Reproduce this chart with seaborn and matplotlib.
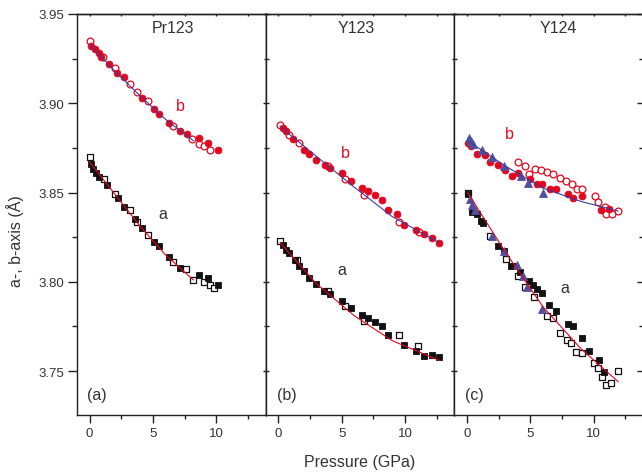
import matplotlib
matplotlib.use("Agg")
import matplotlib.pyplot as plt
import seaborn as sns
from matplotlib.ticker import MultipleLocator, FormatStrFormatter

# ---------------- data ----------------
panel_titles = ["Pr123", "Y123", "Y124"]
panel_tags = ["(a)", "(b)", "(c)"]

# Panel (a) Pr123
pr_b_open_x = [0.0, 1.06, 2.0, 3.2, 3.7, 4.6, 6.6, 8.1, 8.6, 9.05, 9.5]
pr_b_open_y = [3.935, 3.926, 3.920, 3.911, 3.9065, 3.901, 3.8875, 3.880, 3.877, 3.876, 3.8737]
pr_b_fill_x = [0.13, 0.45, 0.7, 0.9, 1.5, 2.16, 2.7, 4.15, 5.1, 5.5, 6.3, 7.1, 7.65, 8.6, 9.35, 10.15]
pr_b_fill_y = [3.932, 3.9305, 3.928, 3.926, 3.922, 3.917, 3.9145, 3.903, 3.897, 3.894, 3.889, 3.8843,
               3.8826, 3.8804, 3.8778, 3.874]
pr_a_open_x = [0.0, 1.1, 2.0, 3.2, 3.75, 4.6, 6.6, 7.6, 8.15, 9.05, 9.5, 9.8]
pr_a_open_y = [3.8698, 3.8576, 3.849, 3.840, 3.8337, 3.826, 3.811, 3.807, 3.801, 3.7998, 3.798, 3.7966]
pr_a_fill_x = [0.1, 0.3, 0.5, 0.7, 1.4, 2.2, 2.7, 3.6, 4.1, 5.1, 5.5, 6.25, 7.1, 8.6, 9.35, 10.1]
pr_a_fill_y = [3.866, 3.863, 3.861, 3.8585, 3.854, 3.847, 3.842, 3.8352, 3.830, 3.8225, 3.820, 3.8138,
               3.808, 3.8039, 3.802, 3.7983]
pr_bfit_x = [0.0, 2.0, 4.0, 6.0, 8.2]
pr_bfit_y = [3.933, 3.918, 3.904, 3.891, 3.879]
pr_afit_x = [0.0, 2.0, 4.0, 6.0, 8.2]
pr_afit_y = [3.867, 3.849, 3.831, 3.815, 3.801]

# Panel (b) Y123
y3_b_open_x = [0.13, 0.87, 1.6, 3.9, 5.3, 6.75, 9.5, 11.1]
y3_b_open_y = [3.888, 3.8823, 3.8778, 3.865, 3.8576, 3.8488, 3.8337, 3.8278]
y3_b_fill_x = [0.35, 0.6, 1.13, 2.0, 2.46, 3.0, 3.7, 4.1, 5.0, 5.7, 6.6, 7.1, 7.6, 8.2, 8.7, 9.4, 9.95,
               10.85, 11.5, 12.1, 12.7]
y3_b_fill_y = [3.886, 3.8844, 3.880, 3.874, 3.8716, 3.868, 3.8655, 3.8638, 3.861, 3.8567, 3.8526, 3.851,
               3.8487, 3.846, 3.8404, 3.838, 3.8318, 3.829, 3.8268, 3.8246, 3.822]
y3_a_open_x = [0.13, 1.5, 3.9, 5.3, 6.75, 9.5, 11.05]
y3_a_open_y = [3.8227, 3.812, 3.795, 3.7863, 3.7783, 3.770, 3.7643]
y3_a_fill_x = [0.35, 0.6, 0.87, 1.3, 1.67, 2.0, 2.43, 3.0, 3.6, 4.1, 5.0, 5.7, 6.6, 7.1, 7.6, 8.2, 8.7,
               9.95, 10.85, 11.5, 12.1, 12.7]
y3_a_fill_y = [3.8205, 3.818, 3.816, 3.812, 3.809, 3.806, 3.8024, 3.7987, 3.795, 3.7932, 3.789, 3.7852,
               3.7815, 3.780, 3.7777, 3.775, 3.770, 3.7647, 3.7615, 3.7587, 3.759, 3.7578]
y3_bfit_x = [0.13, 3.0, 6.0, 9.0, 12.7]
y3_bfit_y = [3.887, 3.8703, 3.853, 3.8365, 3.822]
y3_afit_x = [0.13, 3.0, 6.0, 9.0, 12.7]
y3_afit_y = [3.822, 3.799, 3.781, 3.767, 3.756]

# Panel (c) Y124
y4_b_tri_x = [0.13, 0.3, 0.5, 1.2, 1.96, 2.9, 4.3, 4.8, 6.0]
y4_b_tri_y = [3.8804, 3.879, 3.877, 3.874, 3.8697, 3.865, 3.8595, 3.8552, 3.8496]
y4_b_fill_x = [0.05, 0.35, 0.8, 1.4, 1.85, 2.45, 3.0, 3.55, 4.0, 5.0, 5.5, 5.95, 6.55, 7.0, 7.95, 8.4,
               9.05, 10.6, 11.25]
y4_b_fill_y = [3.878, 3.876, 3.8716, 3.871, 3.8673, 3.8655, 3.8628, 3.8595, 3.861, 3.8576, 3.855, 3.8548,
               3.852, 3.852, 3.849, 3.847, 3.848, 3.8404, 3.8408]
y4_b_open_x = [4.0, 4.6, 4.9, 5.35, 5.85, 6.35, 6.8, 7.35, 7.8, 8.3, 8.7, 9.05, 10.07, 10.35, 10.9, 11.0,
               11.45, 11.95]
y4_b_open_y = [3.867, 3.865, 3.8604, 3.8632, 3.8628, 3.8614, 3.8604, 3.858, 3.8567, 3.8548, 3.852, 3.852,
               3.8483, 3.8446, 3.8418, 3.838, 3.838, 3.8399]
y4_a_open_x = [0.05, 1.83, 3.05, 4.0, 4.6, 5.3, 6.35, 6.8, 7.35, 7.9, 8.2, 8.6, 9.05, 10.0, 10.35, 10.65,
               11.0, 11.4, 11.95]
y4_a_open_y = [3.850, 3.8255, 3.8128, 3.8035, 3.797, 3.7914, 3.7811, 3.7795, 3.7714, 3.7675, 3.766,
               3.7606, 3.760, 3.7546, 3.7516, 3.7466, 3.7423, 3.7434, 3.7503]
y4_a_fill_x = [0.05, 0.37, 0.8, 1.1, 1.3, 2.45, 2.9, 3.45, 3.8, 4.16, 4.9, 5.2, 5.5, 5.95, 6.5, 7.0, 7.95,
               8.4, 9.05, 9.65, 10.4, 10.85]
y4_a_fill_y = [3.849, 3.8393, 3.838, 3.834, 3.8327, 3.820, 3.817, 3.809, 3.809, 3.8054, 3.8007, 3.798,
               3.796, 3.7938, 3.787, 3.7837, 3.7764, 3.7755, 3.7684, 3.7615, 3.756, 3.7497]
y4_a_tri_x = [0.2, 0.4, 0.63, 1.96, 2.9, 3.97, 4.43, 4.77, 5.95]
y4_a_tri_y = [3.8464, 3.843, 3.8403, 3.8255, 3.817, 3.8095, 3.8031, 3.797, 3.7848]
y4_bfit_x = [0.05, 3.0, 6.0, 9.0, 11.95]
y4_bfit_y = [3.879, 3.865, 3.8525, 3.845, 3.8396]
y4_afit_x = [0.05, 3.0, 6.0, 9.0, 11.95]
y4_afit_y = [3.850, 3.817, 3.786, 3.7625, 3.744]

# a / b label positions (data coords)
lab_b_pos = [(7.2, 3.8985), (5.3, 3.8727), (3.37, 3.883)]
lab_a_pos = [(5.77, 3.838), (5.0, 3.807), (7.7, 3.797)]

# ---------------- style ----------------
sns.set_theme(style="ticks")
plt.rcParams['font.family'] = ['Liberation Sans', 'DejaVu Sans']

RED = "#e2061e"
BLUE = "#3d3d9e"
TRI = "#4f4f9e"
BLACK = "#111111"
TXT = "#333333"

fig = plt.figure(figsize=(6.42, 4.77), dpi=100)
L = 77 / 642
W = (643 - 77) / 3 / 642
B = 1 - 416 / 477
T = 1 - 15 / 477
axes = [fig.add_axes([L + i * W, B, W, T - B]) for i in range(3)]


def pts(ax, x, y, marker, filled, col, s):
    if filled:
        sns.scatterplot(x=x, y=y, ax=ax, marker=marker, color=col, edgecolor=col,
                        s=s, linewidth=0.6, legend=False, zorder=3)
    else:
        sns.scatterplot(x=x, y=y, ax=ax, marker=marker, color="white", edgecolor=col,
                        s=s, linewidth=0.9, legend=False, zorder=3)


def fit(ax, x, y, col):
    sns.lineplot(x=x, y=y, ax=ax, color=col, linewidth=0.8, zorder=4,
                 estimator=None, sort=False, legend=False)


ax = axes[0]
pts(ax, pr_b_open_x, pr_b_open_y, "o", False, RED, 24)
pts(ax, pr_b_fill_x, pr_b_fill_y, "o", True, RED, 24)
pts(ax, pr_a_open_x, pr_a_open_y, "s", False, BLACK, 20)
pts(ax, pr_a_fill_x, pr_a_fill_y, "s", True, BLACK, 20)
fit(ax, pr_bfit_x, pr_bfit_y, BLUE)
fit(ax, pr_afit_x, pr_afit_y, RED)

ax = axes[1]
pts(ax, y3_b_open_x, y3_b_open_y, "o", False, RED, 24)
pts(ax, y3_b_fill_x, y3_b_fill_y, "o", True, RED, 24)
pts(ax, y3_a_open_x, y3_a_open_y, "s", False, BLACK, 20)
pts(ax, y3_a_fill_x, y3_a_fill_y, "s", True, BLACK, 20)
fit(ax, y3_bfit_x, y3_bfit_y, BLUE)
fit(ax, y3_afit_x, y3_afit_y, RED)

ax = axes[2]
pts(ax, y4_b_open_x, y4_b_open_y, "o", False, RED, 24)
pts(ax, y4_b_fill_x, y4_b_fill_y, "o", True, RED, 24)
pts(ax, y4_b_tri_x, y4_b_tri_y, "^", True, TRI, 32)
pts(ax, y4_a_open_x, y4_a_open_y, "s", False, BLACK, 20)
pts(ax, y4_a_fill_x, y4_a_fill_y, "s", True, BLACK, 20)
pts(ax, y4_a_tri_x, y4_a_tri_y, "^", True, TRI, 32)
fit(ax, y4_bfit_x, y4_bfit_y, BLUE)
fit(ax, y4_afit_x, y4_afit_y, RED)

title_x = [0.51, 0.48, 0.55]
tag_x = [0.053, 0.06, 0.057]
for i, ax in enumerate(axes):
    ax.set_xlim(-1.0, 13.9)
    ax.set_ylim(3.7254, 3.95)
    ax.set_xlabel("")
    ax.set_ylabel("")
    ax.xaxis.set_major_locator(MultipleLocator(5))
    ax.xaxis.set_minor_locator(MultipleLocator(2.5))
    ax.yaxis.set_major_locator(MultipleLocator(0.05))
    ax.yaxis.set_minor_locator(MultipleLocator(0.025))
    ax.yaxis.set_major_formatter(FormatStrFormatter("%.2f"))
    for sp in ax.spines.values():
        sp.set_linewidth(1.0)
        sp.set_color("#222222")
        sp.set_visible(True)
    ax.tick_params(axis="x", which="major", direction="out", length=5.5, width=1.0,
                   color="#222222", labelsize=9.5, labelcolor=TXT, pad=3.5, top=False)
    ax.tick_params(axis="x", which="minor", direction="out", length=3, width=1.0,
                   color="#222222", top=False)
    if i == 0:
        ax.tick_params(axis="y", which="major", direction="out", length=6.5, width=1.0,
                       color="#222222", labelsize=9.5, labelcolor=TXT, pad=3, right=False)
        ax.tick_params(axis="y", which="minor", direction="out", length=3.5, width=1.0,
                       color="#222222", right=False)
    else:
        ax.tick_params(axis="y", which="both", direction="in", length=2, width=1.0,
                       color="#222222", labelleft=False, right=False)
    # top inward ticks
    sx = ax.secondary_xaxis("top")
    sx.xaxis.set_major_locator(MultipleLocator(5))
    sx.xaxis.set_minor_locator(MultipleLocator(2.5))
    sx.tick_params(axis="x", which="both", direction="in", length=1.5, width=1.0,
                   color="#222222", labeltop=False)
    sx.spines["top"].set_linewidth(1.0)
    sx.spines["top"].set_color("#222222")
    # right inward ticks
    sy = ax.secondary_yaxis("right")
    sy.yaxis.set_major_locator(MultipleLocator(0.05))
    sy.yaxis.set_minor_locator(MultipleLocator(0.025))
    rl = 4.5 if i == 2 else 2
    sy.tick_params(axis="y", which="major", direction="in", length=rl, width=1.0,
                   color="#222222", labelright=False)
    sy.tick_params(axis="y", which="minor", direction="in", length=rl * 0.6, width=1.0,
                   color="#222222", labelright=False)
    sy.spines["right"].set_linewidth(1.0)
    sy.spines["right"].set_color("#222222")

    ax.text(title_x[i], 0.967, panel_titles[i], transform=ax.transAxes, ha="center",
            va="center", fontsize=11.5, color=TXT)
    ax.text(tag_x[i], 0.05, panel_tags[i], transform=ax.transAxes, ha="left",
            va="center", fontsize=11.5, color=TXT)
    ax.text(*lab_b_pos[i], "b", ha="center", va="center", fontsize=11.5, color=RED)
    ax.text(*lab_a_pos[i], "a", ha="center", va="center", fontsize=11.5, color=TXT)

fig.text(360 / 642, 1 - 463 / 477, "Pressure (GPa)", ha="center", va="center",
         fontsize=11.5, color=TXT)
fig.text(15 / 642, 1 - 241 / 477, "a-, b-axis (Å)", ha="center", va="center",
         rotation=90, fontsize=11.5, color=TXT)

fig.savefig("out.png", dpi=100)
